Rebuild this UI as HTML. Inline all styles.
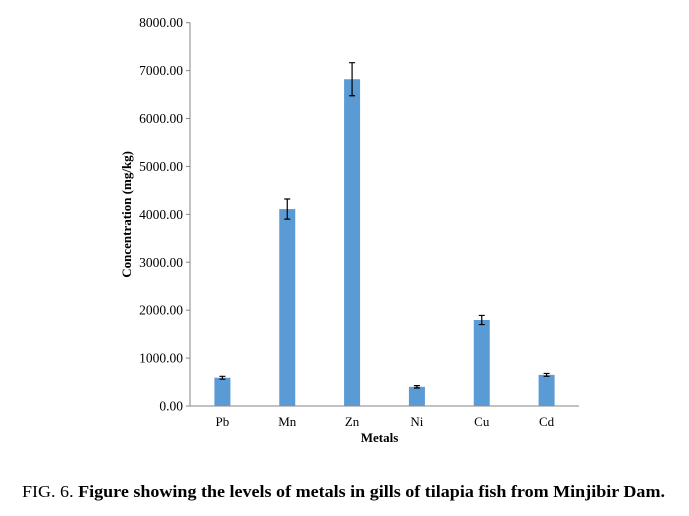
<!DOCTYPE html>
<html><head><meta charset="utf-8"><style>
body{margin:0;background:#fff;}
svg text{font-family:"Liberation Serif",serif;}
</style></head><body>
<svg width="689" height="511" xmlns="http://www.w3.org/2000/svg">
<g id="plot"></g>
<text x="22" y="497" font-size="17" textLength="643" lengthAdjust="spacingAndGlyphs">FIG. 6. <tspan font-weight="bold">Figure showing the levels of metals in gills of tilapia fish from Minjibir Dam.</tspan></text>
</svg>
<script>
const categories=["Pb","Mn","Zn","Ni","Cu","Cd"];
const values=[590,4110,6820,400,1795,650];
const errors=[30,210,345,25,95,30];
const ticks=[0,1000,2000,3000,4000,5000,6000,7000,8000];
const NS="http://www.w3.org/2000/svg";
const g=document.getElementById('plot');
const X0=190,X1=579,Y0=406,Y1=22.7,MAX=8000;
const y=v=>Y0-(v/MAX)*(Y0-Y1);
const cw=(X1-X0)/categories.length;
const x=i=>X0+cw*(i+0.5);
function mk(t,a){const e=document.createElementNS(NS,t);for(const k in a)e.setAttribute(k,a[k]);g.appendChild(e);return e;}
let ax=mk('line',{x1:X0,y1:Y1,x2:X0,y2:Y0,stroke:'#868686'});


let bx=mk('line',{x1:X0-4,y1:Y0,x2:X1,y2:Y0,stroke:'#868686'});


ticks.forEach(t=>{
  const tk=mk('line',{x1:X0-4,y1:y(t),x2:X0,y2:y(t),stroke:'#868686'});
  
  
  const tx=mk('text',{x:X0-7,y:y(t)+4.5,'text-anchor':'end','font-size':'13.5'});
  tx.textContent=t.toFixed(2);
  
  
});
categories.forEach((c,i)=>{
  const cx=x(i),w=16;
  const b=mk('rect',{x:cx-w/2,y:y(values[i]),width:w,height:Y0-y(values[i]),fill:'#5b9bd5'});
  
  
  const hi=y(values[i]+errors[i]),lo=y(values[i]-errors[i]);
  const e=mk('path',{d:`M${cx} ${hi}V${lo}M${cx-3} ${hi}H${cx+3}M${cx-3} ${lo}H${cx+3}`,stroke:'#000','stroke-width':1.2,fill:'none'});
  
  
  const l=mk('text',{x:cx,y:426,'text-anchor':'middle','font-size':'13'});
  l.textContent=c;
  
  
});
const xt=mk('text',{x:(X0+X1)/2-5,y:442,'text-anchor':'middle','font-size':'13','font-weight':'bold'});
xt.textContent='Metals';


const yt=mk('text',{x:0,y:0,'text-anchor':'middle','font-size':'13','font-weight':'bold',transform:`translate(131,${(Y0+Y1)/2}) rotate(-90)`});
yt.textContent='Concentration (mg/kg)';


</script>
</body></html>
